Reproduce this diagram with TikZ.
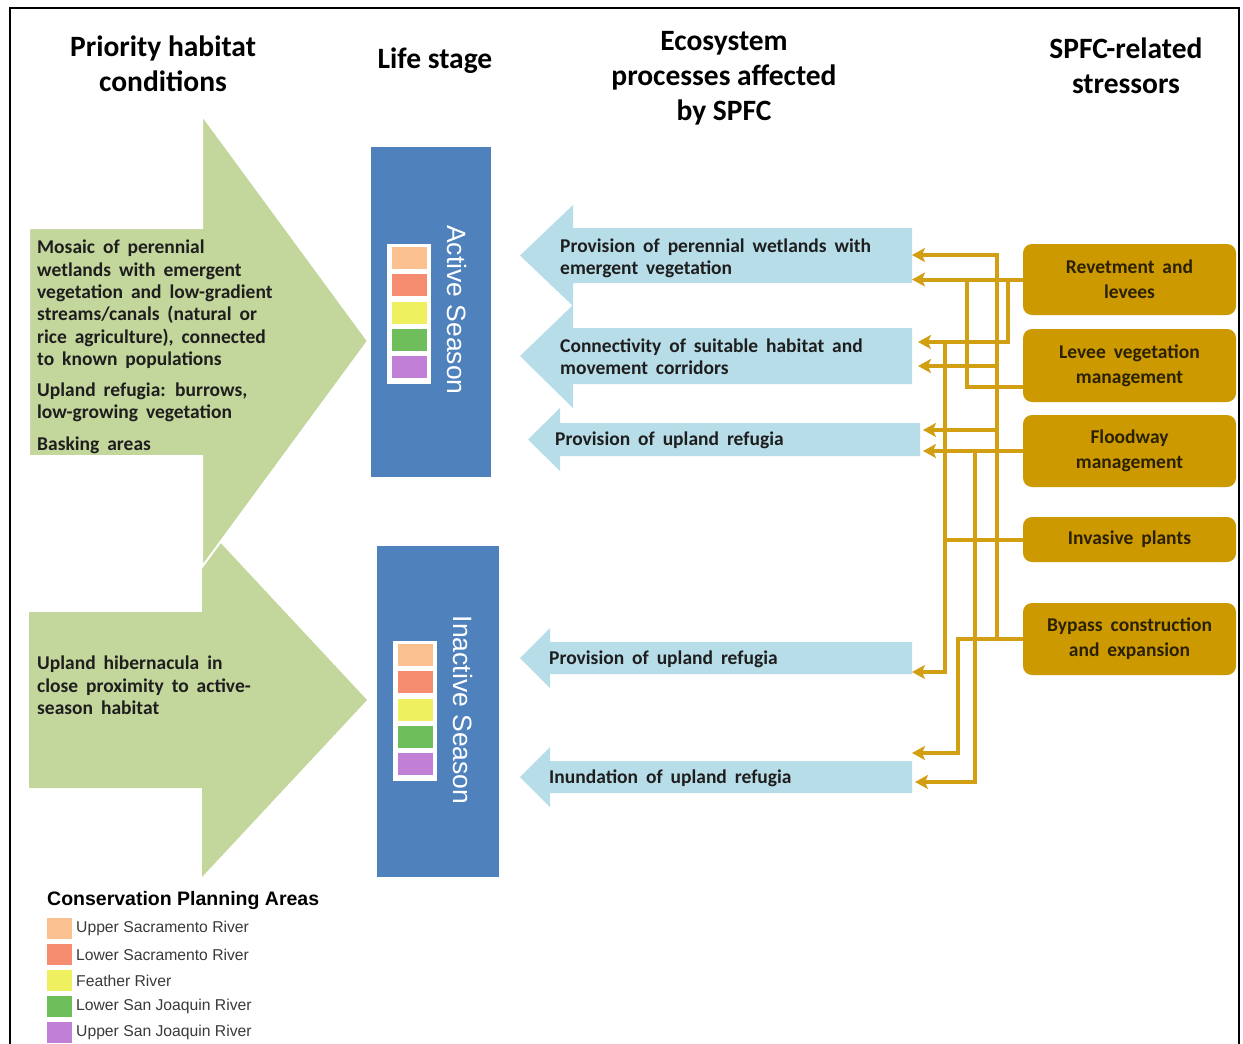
\documentclass[tikz,border=0pt]{standalone}
\usepackage{fontspec}
\setmainfont{Carlito}
\newfontfamily\bodyfont[WordSpace=1.8]{Carlito}
\newfontfamily\arialfont{Liberation Sans}
\usetikzlibrary{arrows.meta}

\definecolor{habgreen}{HTML}{C3D69B}
\definecolor{procblue}{HTML}{B7DDE8}
\definecolor{stageblue}{HTML}{4F81BD}
\definecolor{stressgold}{HTML}{CC9900}
\definecolor{linegold}{HTML}{D29E12}
\definecolor{cpaorange}{HTML}{FAC08F}
\definecolor{cpared}{HTML}{F58C70}
\definecolor{cpayellow}{HTML}{EEF060}
\definecolor{cpagreen}{HTML}{6EBE5C}
\definecolor{cpapurple}{HTML}{C17FD6}
\definecolor{inktext}{HTML}{1E1E1E}
\definecolor{stresstext}{HTML}{2B2100}
\definecolor{legendtext}{HTML}{3A3A3A}

\begin{document}
\begin{tikzpicture}[x=1pt,y=-1pt,
  header/.style={align=center, inner sep=0pt, text=black,
    font=\fontsize{29.5}{35}\selectfont\bfseries},
  bodytext/.style={align=left, inner sep=0pt, text=inktext,
    font=\bodyfont\fontsize{19.5}{22.3}\selectfont\bfseries},
  stagebox/.style={fill=stageblue, draw=none, inner sep=0pt},
  stagelabel/.style={rotate=-90, text=white, inner sep=0pt,
    font=\arialfont\fontsize{26.5}{30}\selectfont},
  stressbox/.style={fill=stressgold, draw=none, rounded corners=9pt,
    minimum width=213pt, align=center, inner sep=0pt, text=stresstext,
    font=\bodyfont\fontsize{19.5}{25}\selectfont\bfseries},
  conn/.style={draw=linegold, line width=4pt},
  tipped/.style={-{Stealth[length=13pt,width=14pt,inset=3pt]}},
  swatches/.pic={
    \fill[white] (0,0) rectangle (44,140);
    \foreach \c [count=\i from 0] in {cpaorange,cpared,cpayellow,cpagreen,cpapurple}
      \fill[\c] (5,3+\i*27.25) rectangle (40,25+\i*27.25);
  }]

\useasboundingbox (0,0) rectangle (1243,1044);
\fill[white] (0,0) rectangle (1243,1044);

% outer frame
\draw[line width=2pt] (10,1044) -- (10,8) -- (1239,8) -- (1239,1044);

% column headers
\node[header] (hhab) at (163,64) {Priority habitat\\conditions};
\node[header] (hlife) at (435,61) {Life stage};
\node[header] (heco) at (724,78) {Ecosystem\\processes affected\\by SPFC};
\node[header] (hstr) at (1126,66) {SPFC-related\\stressors};

% habitat condition arrows (lower one first, upper one overlaps it)
\fill[habgreen] (29,612) -- (202,612) -- (202,523) -- (367,700)
  -- (202,877) -- (202,788) -- (29,788) -- cycle;
\filldraw[fill=habgreen, draw=white, line width=2pt, line join=miter]
  (29,228) -- (202,228) -- (202,115) -- (368,341)
  -- (202,567) -- (202,456) -- (29,456) -- cycle;

\node[bodytext, anchor=north west] (hab1) at (37,240)
  {Mosaic of perennial\\wetlands with emergent\\vegetation and low-gradient\\
   streams/canals (natural or\\rice agriculture), connected\\to known populations\\[9pt]
   Upland refugia: burrows,\\low-growing vegetation\\[9pt]
   Basking areas};
\node[bodytext, anchor=north west] (hab2) at (37,656)
  {Upland hibernacula in\\close proximity to active-\\season habitat};

% life stage boxes
\node[stagebox, minimum width=120pt, minimum height=330pt] (act) at (431,312) {};
\node[stagebox, minimum width=122pt, minimum height=331pt] (inact) at (438,711.5) {};
\pic at (387,244) {swatches};
\pic at (393,641) {swatches};
\node[stagelabel] (actlab) at (457,310) {Active Season};
\node[stagelabel] (inactlab) at (463,710) {Inactive Season};

% ecosystem process arrows
\fill[procblue] (912,228) -- (573,228) -- (573,205) -- (520,255.5)
  -- (573,306) -- (573,283) -- (912,283) -- cycle;
\fill[procblue] (912,328) -- (573,328) -- (573,305) -- (520,356)
  -- (573,408) -- (573,384) -- (912,384) -- cycle;
\fill[procblue] (920,423) -- (560,423) -- (560,408) -- (528,439.5)
  -- (560,471) -- (560,456) -- (920,456) -- cycle;
\fill[procblue] (912,642) -- (550,642) -- (550,628) -- (520,658)
  -- (550,688) -- (550,674) -- (912,674) -- cycle;
\fill[procblue] (912,761) -- (550,761) -- (550,747) -- (520,777)
  -- (550,807) -- (550,793) -- (912,793) -- cycle;

\node[bodytext, anchor=west] (p1) at (560,258)
  {Provision of perennial wetlands with\\emergent vegetation};
\node[bodytext, anchor=west] (p2) at (560,357)
  {Connectivity of suitable habitat and\\movement corridors};
\node[bodytext, anchor=west] (p3) at (555,440) {Provision of upland refugia};
\node[bodytext, anchor=west] (p4) at (549,659) {Provision of upland refugia};
\node[bodytext, anchor=west] (p5) at (549,778) {Inundation of upland refugia};

% stressors
\node[stressbox, minimum height=71pt] (rev) at (1129.5,279.5) {Revetment and\\levees};
\node[stressbox, minimum height=73pt] (lev) at (1129.5,365.5) {Levee vegetation\\management};
\node[stressbox, minimum height=72pt] (flood) at (1129.5,451) {Floodway\\management};
\node[stressbox, minimum height=45pt] (inv) at (1129.5,539.5) {Invasive plants};
\node[stressbox, minimum height=72pt] (byp) at (1129.5,639) {Bypass construction\\and expansion};

% connector end points at the process arrows
\coordinate (t1a) at (912,255);
\coordinate (t1b) at (912,279.5);
\coordinate (t2a) at (918,342);
\coordinate (t2b) at (918,366);
\coordinate (t3a) at (923,430);
\coordinate (t3b) at (923,451);
\coordinate (t4)  at (912,672);
\coordinate (t5a) at (912,753);
\coordinate (t5b) at (915,782);

% junction points on the vertical runs
\coordinate (ja) at (1008,279.5);
\coordinate (jb) at (967,279.5);
\coordinate (jc) at (997,638);
\coordinate (jd) at (975,451);
\coordinate (je) at (945,342);
\coordinate (jf) at (958,639);

% connectors
\draw[conn, tipped] (rev.west) -- (t1b);
\draw[conn, tipped] (ja) -- (ja |- t2a) -- (t2a);
\draw[conn] (jb) -- (967,387) -- (lev.west |- 0,387);
\draw[conn, tipped] (jc) -- (997,255) -- (t1a);
\draw[conn, tipped] (997,366) -- (t2b);
\draw[conn, tipped] (997,430) -- (t3a);
\draw[conn, tipped] (flood.west) -- (t3b);
\draw[conn, tipped] (jd) -- (jd |- t5b) -- (t5b);
\draw[conn] (inv.west) -- (945,539.5);
\draw[conn, tipped] (je) -- (je |- t4) -- (t4);
\draw[conn, tipped] (byp.west) -- (jf) -- (jf |- t5a) -- (t5a);

% legend
\node[anchor=west, inner sep=0pt, text=black,
  font=\arialfont\bfseries\fontsize{19.5}{22}\selectfont] (legtitle) at (47,900)
  {Conservation Planning Areas};
\foreach \c/\t [count=\i from 0] in {cpaorange/Upper Sacramento River,
    cpared/Lower Sacramento River, cpayellow/Feather River,
    cpagreen/Lower San Joaquin River, cpapurple/Upper San Joaquin River} {
  \fill[\c] (47,918+\i*26) rectangle (72,939+\i*26);
  \node[anchor=west, inner sep=0pt, text=legendtext,
    font=\arialfont\fontsize{15.7}{18}\selectfont] (leg\i) at (76,928.5+\i*26) {\t};
}
\end{tikzpicture}
\end{document}
